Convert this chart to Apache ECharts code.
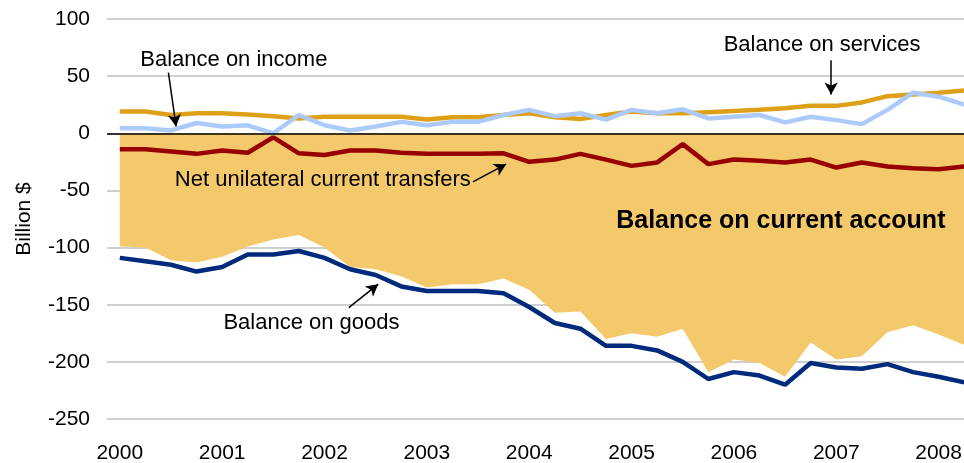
<!DOCTYPE html>
<html>
<head>
<meta charset="utf-8">
<script src="https://cdn.jsdelivr.net/npm/echarts@6/dist/echarts.min.js"></script>
<style>
  html, body { margin: 0; padding: 0; background: #fff; }
  #main { width: 964px; height: 463px; }
</style>
</head>
<body>
<div id="main"></div>
<script>
// quarterly, 2000 Q1 .. 2008 Q2 (x = quarter index)
var yearLabels = ["2000", "2001", "2002", "2003", "2004", "2005", "2006", "2007", "2008"];
var yTicks = [-250, -200, -150, -100, -50, 0, 50, 100];

var currentAccount = [-99, -100, -111, -113, -108, -99, -93, -89, -100, -117, -119,
  -125, -135, -132, -132, -127, -137, -157, -156, -180, -175, -178,
  -171, -209, -198, -201, -213, -183, -198, -195, -174, -168, -176, -185];
var goods = [-109, -112, -115, -121, -117, -106, -106, -103, -109, -119, -124,
  -134, -138, -138, -138, -140, -152, -166, -171, -186, -186, -190,
  -200, -215, -209, -212, -220, -201, -205, -206, -202, -209, -213, -218];
var services = [19, 19, 16, 17.5, 17.5, 16.5, 15, 13, 14.5, 14.5, 14.5,
  14.5, 12, 14, 14, 16, 17.5, 14, 12.5, 16, 19, 17.5,
  17.5, 18.5, 19.5, 20.5, 22, 24, 24, 27, 32.5, 34, 35.5, 37.5];
var income = [4.5, 4.5, 2.5, 9, 6, 7, 0, 16, 7, 2.5, 6,
  10, 7, 10, 10, 16, 20.5, 15, 17.5, 12, 20.5, 17.5,
  21, 13, 14.5, 16, 9.5, 14.5, 11.5, 8, 20.5, 35.5, 32, 25];
var transfers = [-14, -14, -16, -18, -15, -17, -3.5, -17.5, -19, -15, -15,
  -17, -18, -18, -18, -17.5, -25, -23, -18, -23, -28.5, -25.5,
  -9.5, -27, -23, -24, -25.5, -23, -30, -25.5, -29, -30.5, -31.5, -29];

// annotation anchors in data coords [quarter index, value]
var notes = [
  { text: "Balance on income", at: [0.8, 64], bold: false },
  { text: "Balance on services", at: [23.6, 77], bold: false },
  { text: "Net unilateral current transfers", at: [2.15, -41], bold: false },
  { text: "Balance on goods", at: [4.05, -166], bold: false },
  { text: "Balance on current account", at: [19.4, -77], bold: true }
];
var arrows = [
  [[1.9, 53], [2.2, 6]],
  [[27.8, 64], [27.8, 34]],
  [[13.8, -42.5], [15.1, -27]],
  [[8.95, -152.5], [10.1, -132]]
];

function pairs(arr) {
  return arr.map(function (v, i) { return [i, v]; });
}

var FONT = "Liberation Sans, Arial, sans-serif";
var myChart = echarts.init(document.getElementById("main"));

function lineSeries(name, arr, color) {
  return {
    name: name,
    type: "line",
    data: pairs(arr),
    symbol: "none",
    lineStyle: { color: color, width: 4.5 },
    silent: true
  };
}

myChart.setOption({
  animation: false,
  backgroundColor: "#fff",
  textStyle: { fontFamily: FONT },
  grid: { left: 107, top: 19, width: 870, height: 400, outerBoundsMode: "none", containLabel: false },
  xAxis: {
    type: "value",
    min: -0.5,
    max: 33.5,
    splitLine: { show: false },
    axisLine: { show: false },
    axisTick: { show: false },
    axisLabel: {
      customValues: yearLabels.map(function (y, i) { return i * 4; }),
      formatter: function (v) { return yearLabels[Math.round(v / 4)]; },
      color: "#000",
      fontSize: 21,
      fontFamily: FONT,
      margin: 24
    }
  },
  yAxis: {
    type: "value",
    min: yTicks[0],
    max: yTicks[yTicks.length - 1],
    interval: 50,
    name: "Billion $",
    nameLocation: "middle",
    nameGap: 72,
    nameTextStyle: { color: "#000", fontSize: 21, fontFamily: FONT },
    axisLine: { show: false },
    axisTick: { show: false },
    axisLabel: { color: "#000", fontSize: 21, fontFamily: FONT, margin: 17 },
    splitLine: { lineStyle: { color: "#bfbfbf", width: 1.5 } }
  },
  series: [
    {
      name: "Balance on current account",
      type: "line",
      data: pairs(currentAccount),
      symbol: "none",
      lineStyle: { width: 0 },
      areaStyle: { color: "#f4c96b", opacity: 1, origin: "auto" },
      silent: true,
      markLine: {
        silent: true,
        symbol: "none",
        label: { show: false },
        lineStyle: { color: "#000", width: 1.5, type: "solid" },
        data: [{ yAxis: 0 }]
      }
    },
    lineSeries("Balance on goods", goods, "#002a7c"),
    lineSeries("Net unilateral current transfers", transfers, "#960000"),
    lineSeries("Balance on services", services, "#dea019"),
    Object.assign(lineSeries("Balance on income", income, "#adcbfa"), {
      markLine: {
        silent: true,
        symbol: ["none", "arrow"],
        symbolSize: [10, 12],
        label: { show: false },
        lineStyle: { color: "#000", width: 1.5, type: "solid" },
        data: arrows.map(function (a) {
          return [{ coord: a[0] }, { coord: a[1] }];
        })
      }
    })
  ]
});

// annotation texts, placed through the grid's scales
myChart.setOption({
  graphic: notes.map(function (n) {
    var p = myChart.convertToPixel({ gridIndex: 0 }, n.at);
    return {
      type: "text",
      x: p[0],
      y: p[1],
      z: 100,
      silent: true,
      style: {
        text: n.text,
        fill: "#000",
        font: (n.bold ? "bold 25px " : "22px ") + FONT,
        textAlign: "left",
        textVerticalAlign: "middle"
      }
    };
  })
});
</script>
</body>
</html>
